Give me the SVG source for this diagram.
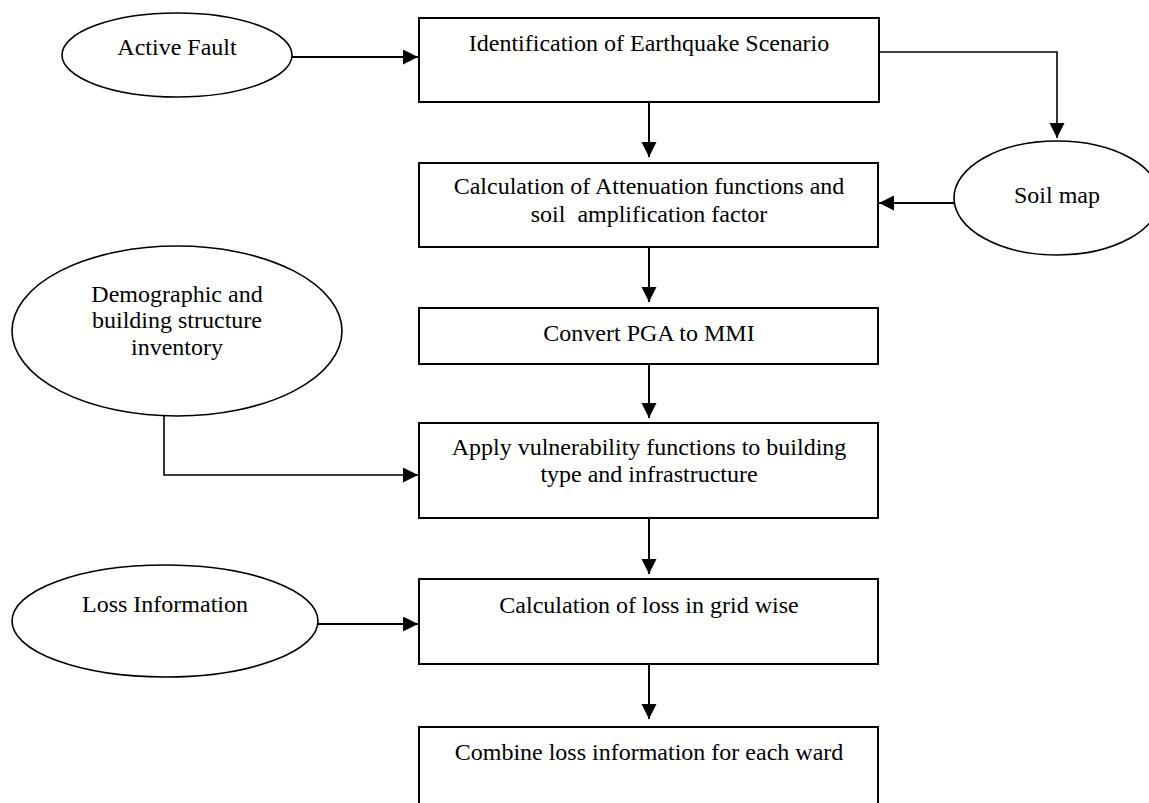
<svg xmlns="http://www.w3.org/2000/svg" width="1149" height="803" viewBox="0 0 1149 803">
<defs>
<style>
.box{fill:#fff;stroke:#000;stroke-width:2}
.ell{fill:#fff;stroke:#000;stroke-width:1.6}
.t{font-family:"Liberation Serif","Times New Roman",serif;font-size:24px;fill:#000;text-anchor:middle;white-space:pre}
.c{fill:none;stroke:#000;stroke-width:2}
.c2{fill:none;stroke:#000;stroke-width:1.6}
</style>
<marker id="ah" markerUnits="userSpaceOnUse" markerWidth="16" markerHeight="16" refX="15" refY="7.5" orient="auto">
<path d="M0,0 L15,7.5 L0,15 Z" fill="#000"/>
</marker>
</defs>
<rect width="1149" height="803" fill="#fff"/>
<g id="connectors">
<path class="c" d="M292,57 H418" marker-end="url(#ah)"/>
<path class="c2" d="M879,52 H1057 V138" marker-end="url(#ah)"/>
<path class="c" d="M649,102 V157" marker-end="url(#ah)"/>
<path class="c" d="M954,203 H879" marker-end="url(#ah)"/>
<path class="c" d="M649,247 V302" marker-end="url(#ah)"/>
<path class="c" d="M649,364 V418" marker-end="url(#ah)"/>
<path class="c2" d="M164,416 V475 H418" marker-end="url(#ah)"/>
<path class="c" d="M649,518 V574" marker-end="url(#ah)"/>
<path class="c" d="M318,624 H418" marker-end="url(#ah)"/>
<path class="c" d="M649,664 V719" marker-end="url(#ah)"/>
</g>
<g id="active-fault">
<ellipse class="ell" cx="177" cy="55" rx="115" ry="42"/>
<text class="t" x="177" y="55">Active Fault</text>
</g>
<g id="identification">
<rect class="box" x="419" y="18" width="460" height="84"/>
<text class="t" x="649" y="51">Identification of Earthquake Scenario</text>
</g>
<g id="soil-map">
<ellipse class="ell" cx="1057" cy="198" rx="103" ry="57"/>
<text class="t" x="1057" y="203">Soil map</text>
</g>
<g id="attenuation">
<rect class="box" x="419" y="163" width="459" height="84"/>
<text class="t" x="649" y="194">Calculation of Attenuation functions and</text>
<text class="t" x="649" y="222">soil  amplification factor</text>
</g>
<g id="demographic">
<ellipse class="ell" cx="177" cy="331" rx="165" ry="85"/>
<text class="t" x="177" y="302">Demographic and</text>
<text class="t" x="177" y="328">building structure</text>
<text class="t" x="177" y="355">inventory</text>
</g>
<g id="convert">
<rect class="box" x="419" y="308" width="459" height="56"/>
<text class="t" x="649" y="341">Convert PGA to MMI</text>
</g>
<g id="vulnerability">
<rect class="box" x="419" y="423" width="459" height="95"/>
<text class="t" x="649" y="455">Apply vulnerability functions to building</text>
<text class="t" x="649" y="482">type and infrastructure</text>
</g>
<g id="loss-information">
<ellipse class="ell" cx="165" cy="621" rx="153" ry="56"/>
<text class="t" x="165" y="612">Loss Information</text>
</g>
<g id="loss-grid">
<rect class="box" x="419" y="579" width="459" height="85"/>
<text class="t" x="649" y="613">Calculation of loss in grid wise</text>
</g>
<g id="combine">
<path class="box" d="M419,810 V727 H878 V810"/>
<text class="t" x="649" y="760">Combine loss information for each ward</text>
</g>
</svg>
